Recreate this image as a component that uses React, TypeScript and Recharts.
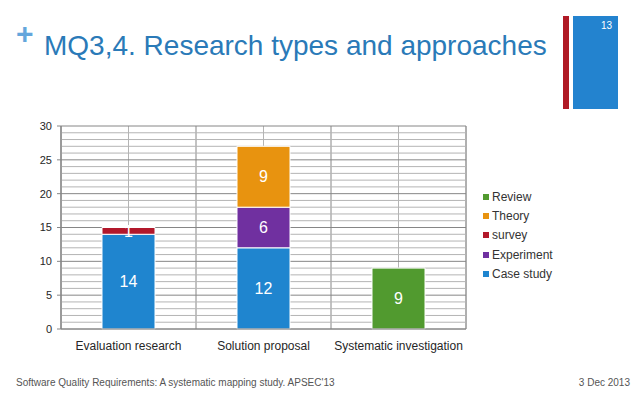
import React from 'react';
import {
    BarChart,
    Bar,
    XAxis,
    YAxis,
    CartesianGrid,
    Legend,
    LabelList,
    ReferenceLine,
} from 'recharts';

const categories = ['Evaluation research', 'Solution proposal', 'Systematic investigation'];
const caseStudy = [14, 12, 0];
const experiment = [0, 6, 0];
const survey = [1, 0, 0];
const theory = [0, 9, 0];
const review = [0, 0, 9];

const yTicks = [0, 5, 10, 15, 20, 25, 30];
const minorTicks = [1, 2, 3, 4, 6, 7, 8, 9, 11, 12, 13, 14, 16, 17, 18, 19, 21, 22, 23, 24, 26, 27, 28, 29];
const boundaryTicks = [0, 1, 2, 3];

// stacking order bottom -> top
const series = [
    { key: 'caseStudy', name: 'Case study', color: '#1f85cf', values: caseStudy },
    { key: 'experiment', name: 'Experiment', color: '#7030a0', values: experiment },
    { key: 'survey', name: 'survey', color: '#b2182b', values: survey },
    { key: 'theory', name: 'Theory', color: '#e8930f', values: theory },
    { key: 'review', name: 'Review', color: '#519a2f', values: review },
];

const data = categories.map((name, i) => {
    const row: Record<string, string | number> = { name, idx: i + 0.5 };
    series.forEach((s) => {
        row[s.key] = s.values[i];
    });
    return row;
});

const font = '"Liberation Sans", Arial, Helvetica, sans-serif';

// legend lists the top of the stack first
function LegendBox() {
    const items = [...series].reverse();
    return (
        <div style={{ fontFamily: font }}>
            {items.map((it) => (
                <div
                    key={it.key}
                    style={{ display: 'flex', alignItems: 'center', height: 19.3 }}
                >
                    <span
                        style={{
                            width: 6,
                            height: 6,
                            background: it.color,
                            marginRight: 3,
                        }}
                    />
                    <span style={{ fontSize: 12, color: '#333' }}>{it.name}</span>
                </div>
            ))}
        </div>
    );
}

export default function App() {
    return (
        <div
            style={{
                position: 'absolute',
                left: 0,
                top: 0,
                width: 638,
                height: 399,
                background: '#fff',
                fontFamily: font,
                overflow: 'hidden',
            }}
        >
            <div style={{ position: 'absolute', left: 16, top: 19, fontSize: 30, fontWeight: 'bold', color: '#64a6dc', lineHeight: '30px' }}>+</div>
            <div style={{ position: 'absolute', left: 44, top: 29, fontSize: 28, color: '#2a7ab8', lineHeight: '34px', whiteSpace: 'nowrap' }}>
                MQ3,4. Research types and approaches
            </div>
            <div style={{ position: 'absolute', left: 563, top: 16, width: 6, height: 93, background: '#b01a26' }} />
            <div style={{ position: 'absolute', left: 573, top: 16, width: 45, height: 93, background: '#2383cf' }}>
                <div style={{ position: 'absolute', right: 6, top: 4, fontSize: 10, color: '#fff' }}>13</div>
            </div>

            <BarChart
                width={638}
                height={260}
                data={data}
                margin={{ top: 26, right: 172, bottom: 6, left: 21 }}
                style={{ position: 'absolute', left: 0, top: 100 }}
            >
                <XAxis
                    xAxisId="b"
                    dataKey="idx"
                    type="number"
                    domain={[0, 3]}
                    ticks={boundaryTicks}
                    height={0}
                    tick={() => <g />}
                    axisLine={false}
                    tickSize={4}
                    tickLine={{ stroke: '#868686' }}
                />
                <XAxis
                    dataKey="name"
                    height={25}
                    tickLine={false}
                    axisLine={{ stroke: '#868686' }}
                    tick={{ fontSize: 12, fill: '#262626' }}
                    tickMargin={6}
                    interval={0}
                />
                <YAxis
                    domain={[0, 30]}
                    ticks={yTicks}
                    width={40}
                    tickSize={4}
                    tickMargin={5}
                    axisLine={{ stroke: '#868686' }}
                    tickLine={{ stroke: '#868686' }}
                    tick={{ fontSize: 11, fill: '#262626' }}
                />
                <CartesianGrid horizontal={false} stroke="#b4b4b4" />
                <CartesianGrid xAxisId="b" horizontal={false} stroke="#868686" />
                {minorTicks.map((v) => (
                    <ReferenceLine key={'m' + v} y={v} stroke="#b4b4b4" zIndex={-50} />
                ))}
                {yTicks.map((v) => (
                    <ReferenceLine key={'M' + v} y={v} stroke="#868686" zIndex={-40} />
                ))}
                <Legend
                    layout="horizontal"
                    verticalAlign="middle"
                    content={LegendBox}
                    wrapperStyle={{ position: 'absolute', left: 483, top: 87, width: 100 }}
                />
                {series.map((s) => (
                    <Bar
                        key={s.key}
                        dataKey={s.key}
                        name={s.name}
                        stackId="a"
                        fill={s.color}
                        stroke="#fff"
                        strokeWidth={1}
                        barSize={53}
                        isAnimationActive={false}
                    >
                        <LabelList
                            dataKey={s.key}
                            position="center"
                            fill="#fff"
                            fontSize={16}
                            formatter={(v: any) => (v ? v : '')}
                        />
                    </Bar>
                ))}
            </BarChart>

            <div style={{ position: 'absolute', left: 16, top: 377, fontSize: 10, color: '#555' }}>
                Software Quality Requirements: A systematic mapping study. APSEC'13
            </div>
            <div style={{ position: 'absolute', right: 8, top: 377, fontSize: 10, color: '#555' }}>3 Dec 2013</div>
        </div>
    );
}
